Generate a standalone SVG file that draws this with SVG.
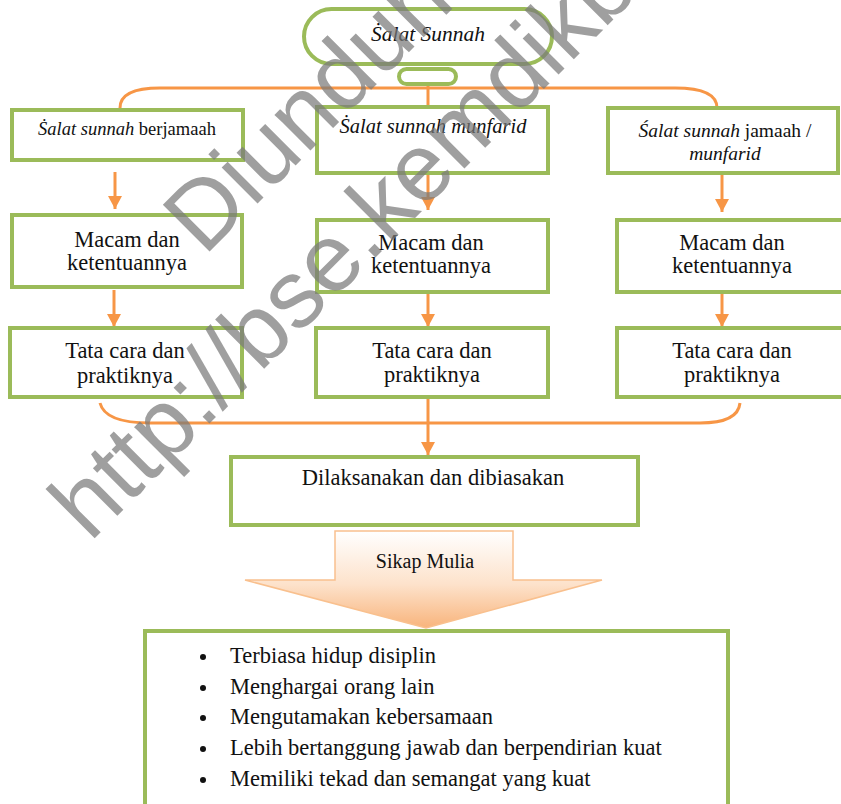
<svg xmlns="http://www.w3.org/2000/svg" width="841" height="804" viewBox="0 0 841 804">
<defs>
<style>
.box{fill:#fff;stroke:#9bbb59;stroke-width:4}
.con{fill:none;stroke:#f79646;stroke-width:3}
.t{font-family:"Liberation Serif","Times New Roman",serif;fill:#111;text-anchor:middle}
.i{font-style:italic}
.l{font-family:"Liberation Serif","Times New Roman",serif;fill:#111;font-size:22.5px}
.wm{font-family:"Liberation Sans",Arial,sans-serif;font-size:96px;fill:#7a7a7a;fill-opacity:0.72}
</style>
<marker id="ah" markerUnits="userSpaceOnUse" markerWidth="14" markerHeight="14" refX="13" refY="7" orient="auto">
<path d="M0,0 L13,7 L0,14 z" fill="#f79646"/>
</marker>
<linearGradient id="gr" x1="0" y1="0" x2="0" y2="1">
<stop offset="0" stop-color="#ffffff"/>
<stop offset="0.55" stop-color="#fde2cb"/>
<stop offset="1" stop-color="#f8b47c"/>
</linearGradient>
</defs>
<rect width="841" height="804" fill="#fff"/>

<g id="connectors">
<path class="con" d="M120,108 Q120,88 160,88 L675,88 Q717,88 717,108"/>
<path class="con" d="M428,85 L428,107"/>
<path class="con" d="M115,172 L115,209" marker-end="url(#ah)"/>
<path class="con" d="M428,173 L428,210" marker-end="url(#ah)"/>
<path class="con" d="M722,175 L722,212" marker-end="url(#ah)"/>
<path class="con" d="M114,290 L114,327" marker-end="url(#ah)"/>
<path class="con" d="M428,292 L428,327" marker-end="url(#ah)"/>
<path class="con" d="M722,292 L722,327" marker-end="url(#ah)"/>
<path class="con" d="M100,403 Q105,423 150,423 L700,423 Q738,423 740,403"/>
<path class="con" d="M428,397 L428,455" marker-end="url(#ah)"/>
</g>

<g id="top">
<rect class="box" x="304" y="9" width="248" height="55" rx="27.5"/>
<rect class="box" x="399" y="69" width="57" height="15" rx="7.5"/>
<text class="t i" x="428" y="41" font-size="21.5">Ṡalat Sunnah</text>
</g>

<g id="berjamaah">
<rect class="box" x="12" y="110" width="231" height="50"/>
<text class="t" x="127" y="135" font-size="18.5"><tspan class="i">Ṡalat sunnah</tspan> berjamaah</text>
</g>
<g id="munfarid">
<rect class="box" x="317" y="107" width="231" height="66"/>
<text class="t i" x="433" y="133" font-size="20.5">Ṡalat sunnah munfarid</text>
</g>
<g id="jamaah-munfarid">
<rect class="box" x="608" y="108" width="230" height="65"/>
<text class="t" x="725" y="137" font-size="19.5"><tspan class="i">Śalat sunnah</tspan> jamaah /</text>
<text class="t i" x="725" y="160" font-size="19.5">munfarid</text>
</g>

<g id="macam1">
<rect class="box" x="12" y="215" width="230" height="72"/>
<text class="t" x="127" y="247" font-size="22.5">Macam dan</text>
<text class="t" x="127" y="270" font-size="22.5">ketentuannya</text>
</g>
<g id="macam2">
<rect class="box" x="317" y="220" width="231" height="72"/>
<text class="t" x="431" y="250" font-size="22.5">Macam dan</text>
<text class="t" x="431" y="273" font-size="22.5">ketentuannya</text>
</g>
<g id="macam3">
<rect class="box" x="617" y="220" width="226" height="72"/>
<text class="t" x="732" y="250" font-size="22.5">Macam dan</text>
<text class="t" x="732" y="273" font-size="22.5">ketentuannya</text>
</g>

<g id="tata1">
<rect class="box" x="10" y="328" width="232" height="69"/>
<text class="t" x="125" y="358" font-size="22.5">Tata cara dan</text>
<text class="t" x="125" y="383" font-size="22.5">praktiknya</text>
</g>
<g id="tata2">
<rect class="box" x="316" y="328" width="232" height="69"/>
<text class="t" x="432" y="358" font-size="22.5">Tata cara dan</text>
<text class="t" x="432" y="382" font-size="22.5">praktiknya</text>
</g>
<g id="tata3">
<rect class="box" x="617" y="328" width="226" height="69"/>
<text class="t" x="732" y="358" font-size="22.5">Tata cara dan</text>
<text class="t" x="732" y="382" font-size="22.5">praktiknya</text>
</g>

<g id="dilaksanakan">
<rect class="box" x="231" y="457" width="407" height="68"/>
<text class="t" x="433" y="485" font-size="22.5">Dilaksanakan dan dibiasakan</text>
</g>

<g id="sikap-mulia">
<path d="M335,531 L513,531 L513,580 L602,580 L426,628 L245,580 L335,580 Z" fill="url(#gr)" stroke="#f9c08e" stroke-width="1.5"/>
<text class="t" x="425" y="568" font-size="20">Sikap Mulia</text>
</g>

<g id="list">
<rect class="box" x="145" y="631" width="583" height="180"/>
<g fill="#111">
<circle cx="203" cy="657" r="3"/>
<circle cx="203" cy="688" r="3"/>
<circle cx="203" cy="718" r="3"/>
<circle cx="203" cy="749" r="3"/>
<circle cx="203" cy="780" r="3"/>
</g>
<text class="l" x="230" y="663">Terbiasa hidup disiplin</text>
<text class="l" x="230" y="694">Menghargai orang lain</text>
<text class="l" x="230" y="724">Mengutamakan kebersamaan</text>
<text class="l" x="230" y="755">Lebih bertanggung jawab dan berpendirian kuat</text>
<text class="l" x="230" y="786">Memiliki tekad dan semangat yang kuat</text>
</g>

<g id="watermark">
<text class="wm" transform="translate(204,257) rotate(-45)">Diunduh dari</text>
<text class="wm" transform="translate(90,543) rotate(-45)">http://bse.kemdikbud.go.id</text>
</g>
</svg>
